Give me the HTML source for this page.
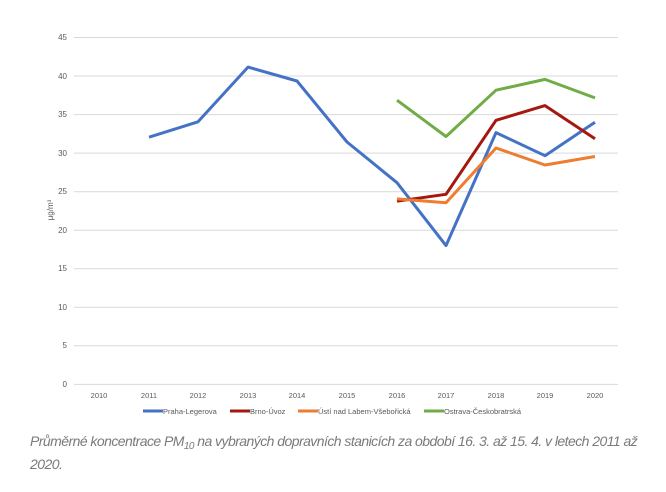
<!DOCTYPE html><html><head><meta charset="utf-8"><style>body{margin:0;background:#fff;width:666px;height:492px;overflow:hidden;font-family:"Liberation Sans",sans-serif}
.cap{position:absolute;left:30px;top:430px;width:630px;font-style:italic;color:#7a7a7a;font-size:14px;letter-spacing:-0.55px;line-height:23px}
.cap sub{font-size:10px;line-height:0;vertical-align:-3px}</style></head><body>
<svg width="666" height="430" style="position:absolute;left:0;top:0" font-family="Liberation Sans, sans-serif">
<g stroke="#d9d9d9" stroke-width="1">
<line x1="74" x2="618" y1="37.5" y2="37.5"/><line x1="74" x2="618" y1="76" y2="76"/><line x1="74" x2="618" y1="114.6" y2="114.6"/><line x1="74" x2="618" y1="153.1" y2="153.1"/><line x1="74" x2="618" y1="191.7" y2="191.7"/><line x1="74" x2="618" y1="230.2" y2="230.2"/><line x1="74" x2="618" y1="268.7" y2="268.7"/><line x1="74" x2="618" y1="307.3" y2="307.3"/><line x1="74" x2="618" y1="345.8" y2="345.8"/><line x1="74" x2="618" y1="384.4" y2="384.4"/></g>
<g font-size="8" fill="#595959" text-anchor="end">
<text x="67" y="40">45</text><text x="67" y="79">40</text><text x="67" y="117">35</text><text x="67" y="156">30</text><text x="67" y="194">25</text><text x="67" y="233">20</text><text x="67" y="271">15</text><text x="67" y="310">10</text><text x="67" y="348">5</text><text x="67" y="387">0</text></g>
<g font-size="7.5" fill="#595959" text-anchor="middle">
<text x="99" y="398">2010</text><text x="149" y="398">2011</text><text x="198" y="398">2012</text><text x="248" y="398">2013</text><text x="297" y="398">2014</text><text x="347" y="398">2015</text><text x="397" y="398">2016</text><text x="446" y="398">2017</text><text x="496" y="398">2018</text><text x="545" y="398">2019</text><text x="595" y="398">2020</text></g>
<text transform="translate(53,210) rotate(-90)" font-size="8" fill="#595959" text-anchor="middle">μg/m³</text>
<g fill="none" stroke-width="3" stroke-linejoin="round">
<polyline stroke="#4472c4" points="149,137.2 198,121.8 248,67.1 297,81 347,142 397,182.7 446,245.6 496,132.6 545,155.7 595,122.2"/>
<polyline stroke="#a5180f" points="397,201.2 446,194.3 496,120.3 545,105.6 595,138.8"/>
<polyline stroke="#ed7d31" points="397,198.9 446,202.8 496,148 545,165 595,156.5"/>
<polyline stroke="#70ad47" points="397,100.2 446,136.5 496,90.2 545,79.4 595,97.9"/>
</g>
<g font-size="7.5" fill="#595959">
<line x1="143" x2="163" y1="411" y2="411" stroke="#4472c4" stroke-width="3"/><text x="163" y="414">Praha-Legerova</text>
<line x1="230" x2="250" y1="411" y2="411" stroke="#a5180f" stroke-width="3"/><text x="250" y="414">Brno-Úvoz</text>
<line x1="298" x2="318" y1="411" y2="411" stroke="#ed7d31" stroke-width="3"/><text x="318" y="414">Ústí nad Labem-Všebořická</text>
<line x1="424" x2="444" y1="411" y2="411" stroke="#70ad47" stroke-width="3"/><text x="444" y="414">Ostrava-Českobratrská</text>
</g></svg>
<div class="cap">Průměrné koncentrace PM<sub>10</sub> na vybraných dopravních stanicích za období 16. 3. až 15. 4. v letech 2011 až 2020.</div>
</body></html>
